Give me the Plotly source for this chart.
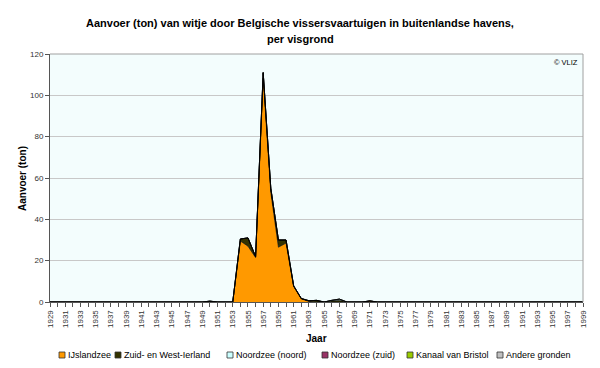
import plotly.graph_objects as go

years = list(range(1929, 2000))

# values per year 1929..1999 (ton)
ijslandzee = [0]*24 + [0, 29.5, 27, 21.5, 108.5, 53, 26.5, 28.5, 7.5, 1.5, 0.3, 0, 0, 0, 0, 0, 0, 0, 0.5] + [0]*28
zuid_west_ierland = [0]*21 + [0.4, 0, 0] + [0, 1, 4, 0.5, 2.5, 2, 3.5, 1.5, 0.3, 0.2, 0.3, 0.8, 0, 0.5, 0.8, 0, 0, 0, 0] + [0]*28
noordzee_noord = [0]*37 + [0.3, 0.6] + [0]*32
noordzee_zuid = [0]*71
kanaal_bristol = [0]*71
andere_gronden = [0]*71

series_names = ["IJslandzee", "Zuid- en West-Ierland", "Noordzee (noord)", "Noordzee (zuid)",
                "Kanaal van Bristol", "Andere gronden"]
series_values = [ijslandzee, zuid_west_ierland, noordzee_noord, noordzee_zuid, kanaal_bristol, andere_gronden]
series_colors = ["#FF9900", "#333300", "#CCFFFF", "#993366", "#99CC00", "#C0C0C0"]

W, H = 600, 368
L, R, T, B = 50, 17, 54, 66
PW, PH = W - L - R, H - T - B


def px(x):
    return (x - L) / PW


def py(y):
    return (H - B - y) / PH


fig = go.Figure()
for name, vals, col in zip(series_names, series_values, series_colors):
    fig.add_trace(go.Scatter(
        x=years, y=vals, name=name, mode="lines", stackgroup="one",
        line=dict(color="#000000", width=0.6), fillcolor=col,
        hoverinfo="skip",
    ))

F = "Liberation Sans"

# manual legend (Excel style, small squares)
legend_sq_x = [59, 115, 227, 322, 407, 497]
legend_y = 355
shapes = [
    dict(type="line", xref="paper", yref="paper", x0=0, x1=1, y0=1, y1=1, line=dict(color="#A0A0A0", width=1)),
    dict(type="line", xref="paper", yref="paper", x0=1, x1=1, y0=0, y1=1, line=dict(color="#A0A0A0", width=1)),
]
annotations = [
    dict(text="<b>Aanvoer (ton) van witje door Belgische vissersvaartuigen in buitenlandse havens,</b>",
         xref="paper", yref="paper", x=px(300), xanchor="center", y=py(23), yanchor="middle",
         showarrow=False, font=dict(family=F, size=11, color="#000000")),
    dict(text="<b>per visgrond</b>",
         xref="paper", yref="paper", x=px(300), xanchor="center", y=py(39), yanchor="middle",
         showarrow=False, font=dict(family=F, size=11, color="#000000")),
    dict(text="<b>Jaar</b>", xref="paper", yref="paper", x=px(316), y=py(338), yanchor="middle",
         showarrow=False, font=dict(family=F, size=10, color="#000000")),
    dict(text="<b>Aanvoer (ton)</b>", xref="paper", yref="paper", x=px(22), xanchor="center",
         y=py(178), yanchor="middle", textangle=-90, showarrow=False,
         font=dict(family=F, size=10, color="#000000")),
    dict(text="© VLIZ", xref="paper", yref="paper", x=px(580), xanchor="right", y=py(56), yanchor="top",
         showarrow=False, font=dict(family=F, size=7.5, color="#000000")),
]
for sx, name, col in zip(legend_sq_x, series_names, series_colors):
    shapes.append(dict(type="rect", xref="paper", yref="paper",
                       x0=px(sx), x1=px(sx + 6), y0=py(legend_y + 3), y1=py(legend_y - 3),
                       fillcolor=col, line=dict(color="#333333", width=0.8)))
    annotations.append(dict(text=name, xref="paper", yref="paper", x=px(sx + 7), xanchor="left",
                            y=py(legend_y), yanchor="middle", showarrow=False,
                            font=dict(family=F, size=9, color="#000000")))

fig.update_layout(
    width=W, height=H,
    margin=dict(l=L, r=R, t=T, b=B, autoexpand=False),
    paper_bgcolor="white", plot_bgcolor="#F3FDFD",
    font=dict(family=F, size=8, color="#333333"),
    showlegend=False,
    xaxis=dict(range=[1929, 1999], tickmode="array", tickvals=list(range(1929, 2000, 2)),
               tickangle=-90, ticks="outside", ticklen=4, tickcolor="#555555",
               showgrid=False, showline=True, linecolor="#555555", linewidth=1,
               zeroline=False, tickfont=dict(size=8, color="#333333"), automargin=False,
               minor=dict(dtick=1, ticks="outside", ticklen=4, tickcolor="#555555", showgrid=False)),
    yaxis=dict(range=[0, 120], dtick=20, ticks="outside", ticklen=4, tickcolor="#555555",
               showgrid=True, gridcolor="#C8C8C8", gridwidth=1, automargin=False,
               showline=True, linecolor="#555555", linewidth=1, zeroline=False,
               tickfont=dict(size=8, color="#333333")),
    shapes=shapes,
    annotations=annotations,
)

fig.write_html("out.html", config={"displayModeBar": False, "staticPlot": True},
               post_script="document.body.style.margin='0';document.body.style.overflow='hidden';")
